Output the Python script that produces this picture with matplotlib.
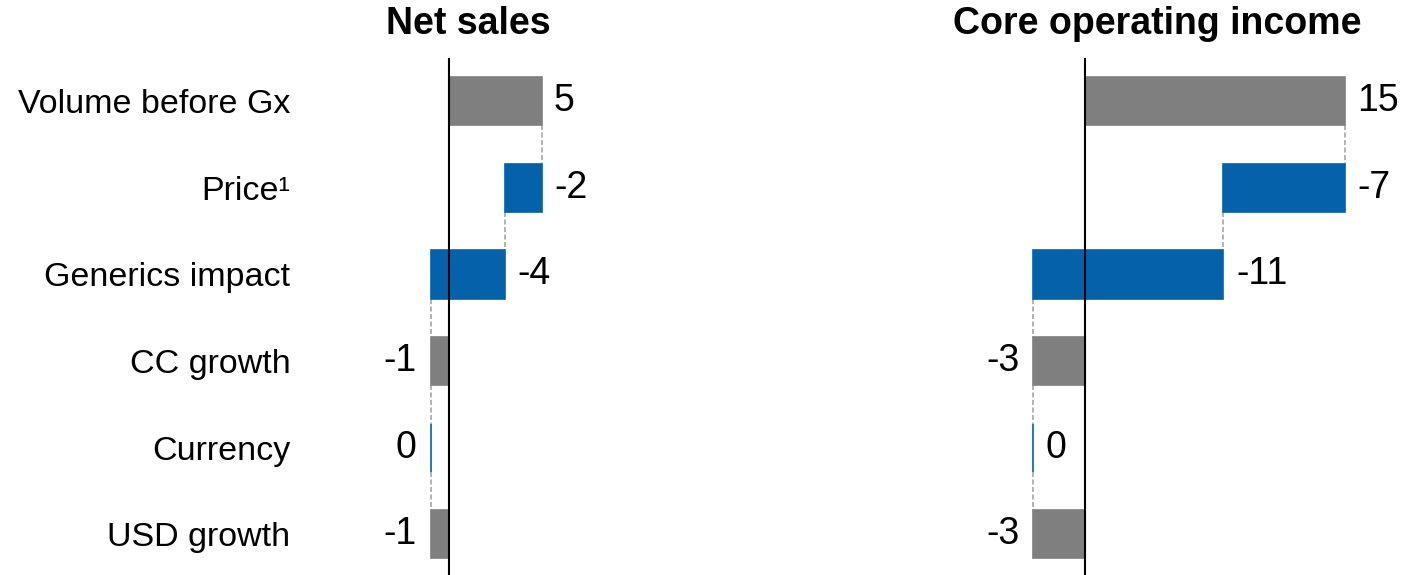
import matplotlib.pyplot as plt

plt.rcParams['font.family'] = ['Liberation Sans', 'DejaVu Sans']

# --- datos ---
categories = ['Volume before Gx', 'Price\u00b9', 'Generics impact', 'CC growth', 'Currency', 'USD growth']
# True -> la barra parte del acumulado anterior (paso), False -> parte de cero (total)
is_step = [False, True, True, False, True, False]
net_sales = [5, -2, -4, -1, 0, -1]
core_income = [15, -7, -11, -3, 0, -3]
net_sales_side = ['right', 'right', 'right', 'left', 'left', 'left']
core_income_side = ['right', 'right', 'right', 'left', 'right', 'left']

GRAY = '#7f7f7f'
BLUE = '#0561a9'
W, H = 1403, 575
BAR_H = 0.555


def waterfall(ax, values, sides, px_left, px_right, px_zero, px_per_unit):
    # ejes en pixeles de la figura -> limites en unidades
    ax.set_position([px_left / W, 0, (px_right - px_left) / W, 1 - 58 / H])
    ax.set_xlim((px_left - px_zero) / px_per_unit, (px_right - px_zero) / px_per_unit)
    ax.set_ylim(5.47, -0.5)

    level = 0
    prev_end = None
    for i, (v, step, side) in enumerate(zip(values, is_step, sides)):
        start = level if step else 0
        end = start + v
        color = BLUE if step else GRAY
        ax.barh(i, end - start, left=start, height=BAR_H, color=color,
                edgecolor=color, linewidth=1.2, zorder=2)
        if prev_end is not None:
            ax.plot([prev_end, prev_end], [i - 1 + BAR_H / 2, i - BAR_H / 2],
                    ls=(0, (3, 1.5)), color='#a6a6a6', lw=1.2, zorder=1)
        if side == 'right':
            ax.annotate(f'{v}', (max(start, end), i), xytext=(9, 0),
                        textcoords='offset points', ha='left', va='center',
                        fontsize=27)
        else:
            ax.annotate(f'{v}', (min(start, end), i), xytext=(-10, 0),
                        textcoords='offset points', ha='right', va='center',
                        fontsize=27)
        level = end
        prev_end = end

    ax.axvline(0, color='black', lw=1.5, zorder=3)
    for s in ax.spines.values():
        s.set_visible(False)
    ax.set_xticks([])
    ax.tick_params(axis='y', length=0)


fig = plt.figure(figsize=(W / 100, H / 100), dpi=100)
ax1 = fig.add_axes([0, 0, 1, 1])
ax2 = fig.add_axes([0, 0, 1, 1])

waterfall(ax1, net_sales, net_sales_side, 300, 760, 449, 18.5)
waterfall(ax2, core_income, core_income_side, 900, 1403, 1085, 17.3)

ax1.set_yticks(range(len(categories)))
ax1.set_yticklabels(categories, fontsize=24.5)
ax1.tick_params(axis='y', pad=7)
ax2.set_yticks([])

fig.text(468 / W, 1 - 24 / H, 'Net sales', ha='center', va='center',
         fontsize=27, fontweight='bold')
fig.text(1157 / W, 1 - 24 / H, 'Core operating income', ha='center', va='center',
         fontsize=27, fontweight='bold')

fig.savefig('out.png', dpi=100)
